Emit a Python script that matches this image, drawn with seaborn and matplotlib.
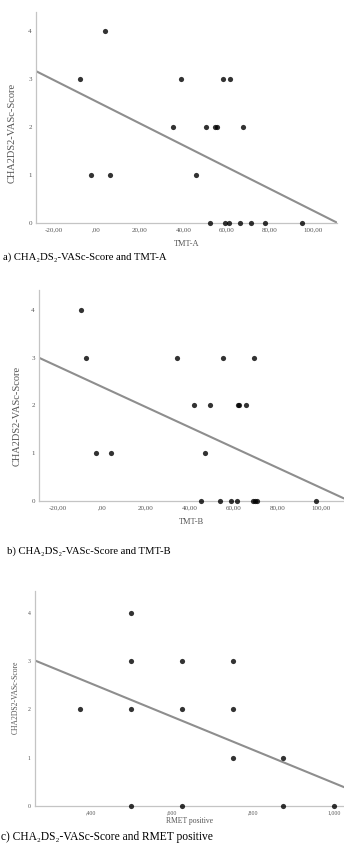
#!/usr/bin/env python3
"""CHA2DS2-VASc score vs. TMT-A, TMT-B and RMET positive (three stacked scatter plots)."""

import matplotlib

matplotlib.use("Agg")
import matplotlib.pyplot as plt
import pandas as pd
import seaborn as sns

# panel a: TMT-A
tmt_a = [-7.7, 3.8, -2.8, 6.2, 38.8, 58.5, 61.5, 35.4, 45.7, 50.3, 54.6, 55.7,
         67.4, 52.3, 59.4, 61.2, 66.2, 71.4, 77.8, 94.8]
score_a = [3, 4, 1, 1, 3, 3, 3, 2, 1, 2, 2, 2,
           2, 0, 0, 0, 0, 0, 0, 0]

# panel b: TMT-B
tmt_b = [-9.4, -7.5, -2.5, 3.9, 34.3, 55.0, 69.3, 42.1, 47.1, 49.2, 61.8, 62.6,
         65.5, 45.2, 53.8, 58.8, 61.5, 68.8, 69.7, 70.5, 97.6]
score_b = [4, 3, 1, 1, 3, 3, 3, 2, 1, 2, 2, 2,
           2, 0, 0, 0, 0, 0, 0, 0, 0]

# panel c: RMET positive
rmet = [0.375, 0.5, 0.5, 0.5, 0.5, 0.625, 0.625, 0.625, 0.75, 0.75, 0.75,
        0.875, 0.875, 1.0]
score_c = [2, 4, 3, 2, 0, 3, 2, 0, 3, 2, 1, 1, 0, 0]

tmt_ticks = [-20, 0, 20, 40, 60, 80, 100]
rmet_ticks = [0.4, 0.6, 0.8, 1.0]
score_ticks = [0, 1, 2, 3, 4]

captions = [
    "a) CHA\u2082DS\u2082-VASc-Score and TMT-A",
    "b) CHA\u2082DS\u2082-VASc-Score and TMT-B",
    "c) CHA\u2082DS\u2082-VASc-Score and RMET positive",
]

sns.set_theme(style="white")
plt.rcParams["font.family"] = ["Liberation Serif", "DejaVu Serif"]

W, H = 344, 850
SERIF = ["Liberation Serif", "DejaVu Serif"]
TEXT_GREY = "#555555"


def comma_fmt(v, decimals):
    s = f"{v:.{decimals}f}".replace(".", ",")
    if s.startswith("0,"):
        s = s[1:]
    return s


def panel(fig, box, x, y, xname, xlim, ylim, xticks, decimals, ylab_pos,
          tick_size, label_size, ylabel_size, labelpad):
    left, top, right, bottom = box
    ax = fig.add_axes([left / W, 1 - bottom / H, (right - left) / W, (bottom - top) / H])
    ax.set_xlim(*xlim)
    ax.set_ylim(*ylim)
    df = pd.DataFrame({xname: x, "score": y})
    sns.regplot(
        data=df, x=xname, y="score", ax=ax, ci=None, truncate=False,
        scatter_kws={"s": 14, "color": "black", "linewidths": 0, "clip_on": False, "zorder": 3},
        line_kws={"color": "#8e8e8e", "lw": 1.5},
    )
    ax.set_xlim(*xlim)
    ax.set_ylim(*ylim)
    for side in ("top", "right"):
        ax.spines[side].set_visible(False)
    for side in ("left", "bottom"):
        ax.spines[side].set_color("#c4c4c4")
        ax.spines[side].set_linewidth(0.9)
    ax.set_xticks(xticks)
    ax.set_xticklabels([comma_fmt(t, decimals) for t in xticks])
    ax.set_yticks(score_ticks)
    ax.tick_params(length=0, pad=3, labelsize=tick_size, labelcolor=TEXT_GREY)
    ax.set_xlabel(xname, fontsize=label_size, color=TEXT_GREY, labelpad=labelpad)
    ax.set_ylabel("CHA2DS2-VASc-Score", fontsize=ylabel_size, color=TEXT_GREY)
    ax.yaxis.set_label_coords(*ylab_pos)
    return ax


fig = plt.figure(figsize=(W / 100, H / 100), dpi=100)

panel(fig, (36, 12, 337, 223), tmt_a, score_a, "TMT-A", (-28, 111), (0, 4.4),
      tmt_ticks, 2, (-0.063, 0.427), 5, 6, 7.5, 6)
panel(fig, (39, 290, 344, 500.7), tmt_b, score_b, "TMT-B", (-28.7, 110.3), (0, 4.42),
      tmt_ticks, 2, (-0.057, 0.40), 5, 6, 7.5, 6)
panel(fig, (35, 590.7, 344, 806), rmet, score_c, "RMET positive", (0.263, 1.024), (0, 4.46),
      rmet_ticks, 3, (-0.049, 0.506), 4.2, 5.5, 5.5, 1.5)

caption_specs = [((3, 257), 7.7), ((7, 550.7), 7.7), ((1, 836.7), 8.3)]
for ((cx, cy), size), text in zip(caption_specs, captions):
    fig.text(cx / W, 1 - cy / H, text, fontsize=size, family=SERIF, color="black",
             ha="left", va="center")

fig.savefig("out.png", dpi=100)
